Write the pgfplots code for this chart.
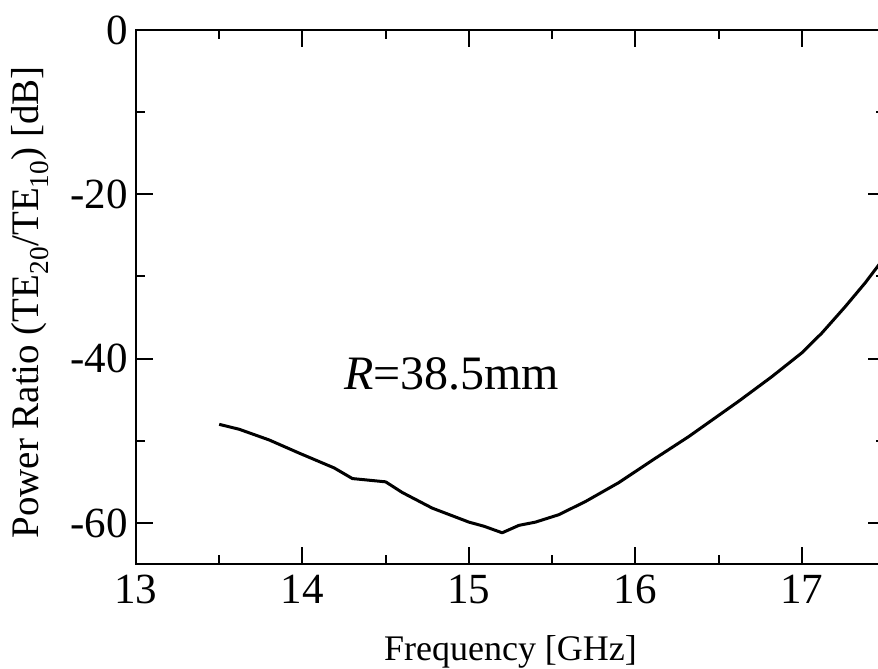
\documentclass[border=0pt]{standalone}
\usepackage{fontspec}
\setmainfont{Liberation Serif}
\usepackage{pgfplots}
\pgfplotsset{compat=1.18}
\begin{document}
\begin{tikzpicture}
\begin{axis}[
  scale only axis,
  width=749pt, height=534pt,
  xmin=13, xmax=17.5, ymin=-65, ymax=0,
  xtick={13,14,15,16,17}, ytick={-60,-40,-20,0},
  minor xtick={13.5,14.5,15.5,16.5,17.5}, minor ytick={-50,-30,-10},
  tick align=inside,
  major tick length=17pt, minor tick length=9pt,
  every tick/.style={black, line width=2pt},
  axis line style={line width=2.7pt},
  /pgf/number format/assume math mode=true,
  ticklabel style={font=\fontsize{43}{50}\selectfont, inner sep=0pt},
  xticklabel style={yshift=-11pt},
  yticklabel style={xshift=-8pt},
  xlabel={Frequency [GHz]},
  ylabel={Power Ratio (TE\textsubscript{20}/TE\textsubscript{10}) [dB]},
  xlabel style={font=\fontsize{36}{42}\selectfont, at={(axis description cs:0.5,0)}, anchor=north, yshift=-71pt, inner sep=0pt},
  ylabel style={font=\fontsize{39}{45}\selectfont, at={(axis description cs:-0.1415,0.49)}, anchor=center, inner sep=0pt},
]
\addplot[black, line width=3pt, line join=round] coordinates {
(13.5,-48.0) (13.62,-48.6) (13.80,-49.9) (13.98,-51.5) (14.19,-53.3)
(14.30,-54.6) (14.50,-55.0) (14.60,-56.3) (14.78,-58.2) (15.00,-59.9)
(15.09,-60.4) (15.20,-61.2) (15.30,-60.3) (15.40,-59.9) (15.54,-59.0)
(15.70,-57.4) (15.90,-55.1) (16.10,-52.4) (16.32,-49.5) (16.62,-45.2)
(16.82,-42.2) (17.00,-39.3) (17.12,-36.9) (17.26,-33.7) (17.38,-30.8)
(17.50,-27.6)
};
\node[anchor=base west, inner sep=0pt, font=\fontsize{48}{54}\selectfont] at (axis cs:14.25,-43.8) {\textit{R}=38.5mm};
\coordinate (ll) at (rel axis cs:0,0);
\coordinate (ul) at (rel axis cs:0,1);
\end{axis}
\pgfresetboundingbox
\path[use as bounding box] ([shift={(-136pt,-105pt)}]ll) rectangle ([shift={(742pt,30pt)}]ul);
\end{tikzpicture}
\end{document}
